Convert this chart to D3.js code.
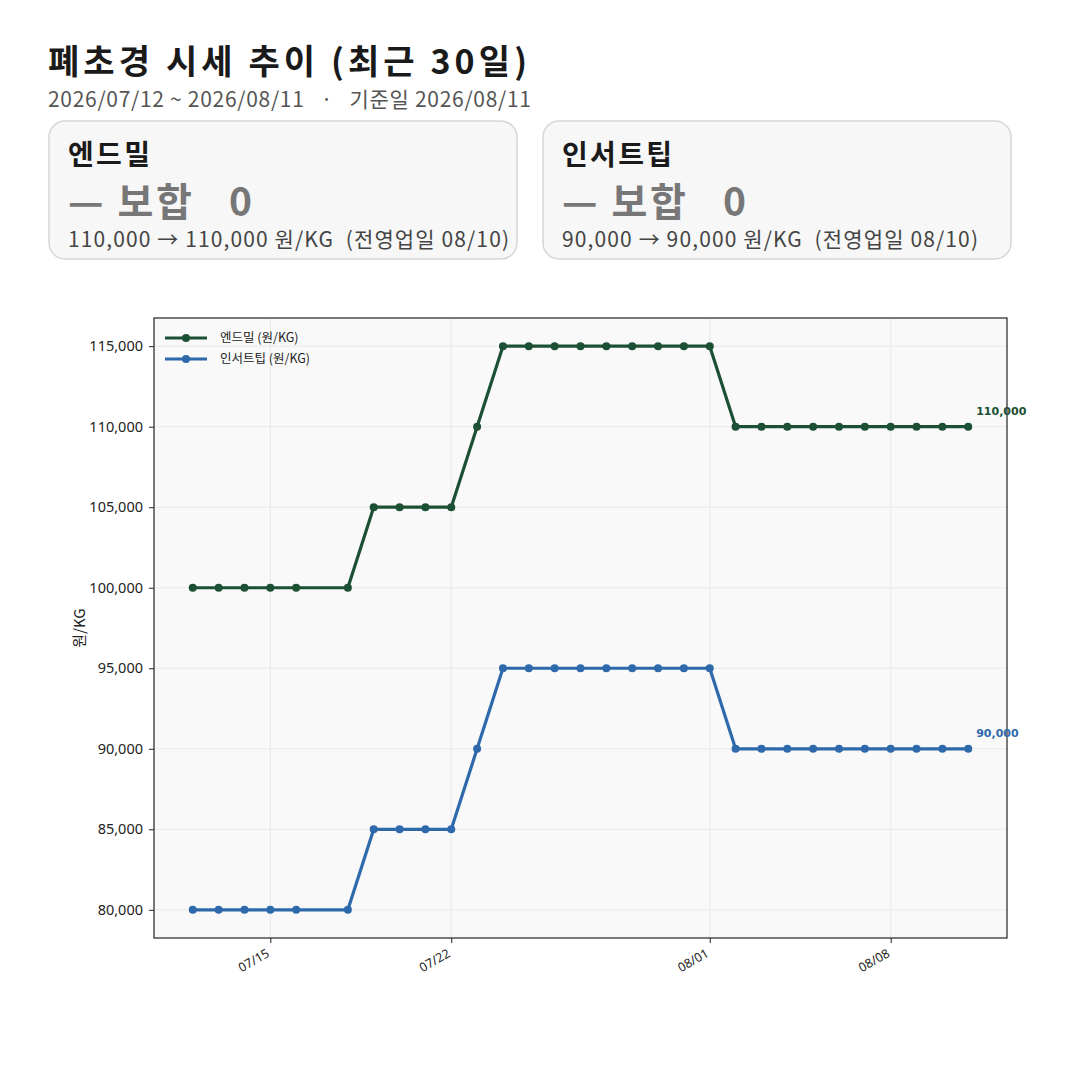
<!DOCTYPE html>
<html>
<head>
<meta charset="utf-8">
<script src="https://cdn.jsdelivr.net/npm/d3@7"></script>
<style>
  body { margin: 0; background: #fff; }
</style>
</head>
<body>
<div id="chart"></div>
<script>
// data (07/17 has no point)
const dates = ["2026-07-12","2026-07-13","2026-07-14","2026-07-15","2026-07-16",
  "2026-07-18","2026-07-19","2026-07-20","2026-07-21","2026-07-22","2026-07-23",
  "2026-07-24","2026-07-25","2026-07-26","2026-07-27","2026-07-28","2026-07-29",
  "2026-07-30","2026-07-31","2026-08-01","2026-08-02","2026-08-03","2026-08-04",
  "2026-08-05","2026-08-06","2026-08-07","2026-08-08","2026-08-09","2026-08-10","2026-08-11"];
const endmill = [100000,100000,100000,100000,100000,100000,105000,105000,105000,105000,110000,
  115000,115000,115000,115000,115000,115000,115000,115000,115000,
  110000,110000,110000,110000,110000,110000,110000,110000,110000,110000];
const insert = [80000,80000,80000,80000,80000,80000,85000,85000,85000,85000,90000,
  95000,95000,95000,95000,95000,95000,95000,95000,95000,
  90000,90000,90000,90000,90000,90000,90000,90000,90000,90000];
const seriesNames = ["엔드밀 (원/KG)", "인서트팁 (원/KG)"];
const seriesColors = ["#1c5034", "#2e69ab"];
const xTickDates = ["2026-07-15","2026-07-22","2026-08-01","2026-08-08"];
const yTicks = [80000, 85000, 90000, 95000, 100000, 105000, 110000, 115000];

const cards = [
  { name: "엔드밀", change: "— 보합   0", detail: "110,000 → 110,000 원/KG  (전영업일 08/10)" },
  { name: "인서트팁", change: "— 보합   0", detail: "90,000 → 90,000 원/KG  (전영업일 08/10)" }
];
// widths measured on the reference, used to stretch the narrower local font
const nameW = [82, 110], changeW = [184, 184], detailW = [441, 416];

const KR = "'Noto Sans CJK KR', 'Noto Sans', sans-serif";
const W = 1080, H = 1080;
const svg = d3.select("#chart").append("svg").attr("width", W).attr("height", H)
  .style("font-family", KR);

// header
svg.append("text").attr("x", 48).attr("y", 74)
  .attr("font-size", 34).attr("font-weight", "bold").attr("fill", "#1a1a1a")
  .attr("textLength", 479).attr("lengthAdjust", "spacing")
  .text("폐초경 시세 추이 (최근 30일)");
svg.append("text").attr("x", 48).attr("y", 107)
  .attr("font-size", 21).attr("fill", "#555")
  .attr("textLength", 483).attr("lengthAdjust", "spacing")
  .style("white-space", "pre")
  .text("2026/07/12 ~ 2026/08/11   ·   기준일 2026/08/11");

// summary cards
const card = svg.selectAll(".card").data(cards).join("g")
  .attr("class", "card")
  .attr("transform", (d, i) => `translate(${49 + i * 494},121)`);
card.append("rect").attr("width", 468).attr("height", 138).attr("rx", 16)
  .attr("fill", "#f7f7f7").attr("stroke", "#d6d6d6").attr("stroke-width", 1.5);
card.append("text").attr("x", 19).attr("y", 44)
  .attr("font-size", 28).attr("font-weight", "bold").attr("fill", "#1a1a1a")
  .attr("textLength", (d, i) => nameW[i]).attr("lengthAdjust", "spacing")
  .text(d => d.name);
card.append("text").attr("x", 19).attr("y", 95)
  .attr("font-size", 39).attr("font-weight", "bold").attr("fill", "#777")
  .attr("textLength", (d, i) => changeW[i]).attr("lengthAdjust", "spacing")
  .style("white-space", "pre")
  .text(d => d.change);
card.append("text").attr("x", 19).attr("y", 126)
  .attr("font-size", 21).attr("fill", "#444")
  .attr("textLength", (d, i) => detailW[i]).attr("lengthAdjust", "spacing")
  .style("white-space", "pre")
  .text(d => d.detail);

// plot area
const m = { left: 154, right: 1007, top: 318, bottom: 938 };
const parse = d3.utcParse("%Y-%m-%d");
const xs = dates.map(parse);
const span = xs[xs.length - 1] - xs[0];
const x = d3.scaleUtc()
  .domain([new Date(+xs[0] - span * 0.05), new Date(+xs[xs.length - 1] + span * 0.05)])
  .range([m.left, m.right]);
const yMin = d3.min(insert), yMax = d3.max(endmill), yPad = (yMax - yMin) * 0.05;
const y = d3.scaleLinear().domain([yMin - yPad, yMax + yPad]).range([m.bottom, m.top]);

svg.append("rect").attr("x", m.left).attr("y", m.top)
  .attr("width", m.right - m.left).attr("height", m.bottom - m.top).attr("fill", "#f9f9f9");

// grid
const grid = svg.append("g").attr("stroke", "#e4e4e4").attr("stroke-width", 0.8);
grid.selectAll(".gy").data(yTicks).join("line")
  .attr("x1", m.left).attr("x2", m.right).attr("y1", d => y(d)).attr("y2", d => y(d));
grid.selectAll(".gx").data(xTickDates.map(parse)).join("line")
  .attr("y1", m.top).attr("y2", m.bottom).attr("x1", d => x(d)).attr("x2", d => x(d));

// axes
const fmt = d3.format(",");
const yAxis = svg.append("g").attr("transform", `translate(${m.left},0)`)
  .call(d3.axisLeft(y).tickValues(yTicks).tickFormat(fmt).tickSize(5).tickPadding(6));
const xAxis = svg.append("g").attr("transform", `translate(0,${m.bottom})`)
  .call(d3.axisBottom(x).tickValues(xTickDates.map(parse)).tickFormat(d3.utcFormat("%m/%d")).tickSize(5));
[yAxis, xAxis].forEach(a => {
  a.select(".domain").remove();
  a.selectAll(".tick line").attr("stroke", "#222");
  a.selectAll(".tick text").attr("fill", "#222")
    .style("font-size", "14.5px").style("font-family", "'Noto Sans', sans-serif");
});
xAxis.selectAll(".tick text")
  .style("font-size", "12.5px")
  .attr("x", 0).attr("y", 0).attr("dy", "0.72em")
  .attr("text-anchor", "end")
  .attr("transform", "translate(-5,10) rotate(-30)");

svg.append("rect").attr("x", m.left).attr("y", m.top)
  .attr("width", m.right - m.left).attr("height", m.bottom - m.top)
  .attr("fill", "none").attr("stroke", "#222").attr("stroke-width", 1.2);

svg.append("text")
  .attr("transform", `translate(85,${(m.top + m.bottom) / 2}) rotate(-90)`)
  .attr("text-anchor", "middle").attr("font-size", 15).attr("fill", "#222")
  .text("원/KG");

// lines
const series = [endmill, insert].map((vals, i) => ({
  name: seriesNames[i], color: seriesColors[i],
  pts: vals.map((v, j) => ({ d: xs[j], v }))
}));
const line = d3.line().x(p => x(p.d)).y(p => y(p.v));
const sg = svg.selectAll(".series").data(series).join("g").attr("class", "series");
sg.append("path").attr("d", d => line(d.pts)).attr("fill", "none")
  .attr("stroke", d => d.color).attr("stroke-width", 3.2).attr("stroke-linejoin", "round");
sg.each(function (s) {
  d3.select(this).selectAll("circle").data(s.pts).join("circle")
    .attr("cx", p => x(p.d)).attr("cy", p => y(p.v)).attr("r", 4).attr("fill", s.color);
  const last = s.pts[s.pts.length - 1];
  d3.select(this).append("text")
    .attr("x", x(last.d) + 8).attr("y", y(last.v) - 12)
    .style("font-family", "'DejaVu Sans', sans-serif")
    .attr("font-size", 11).attr("font-weight", "bold").attr("fill", s.color)
    .text(fmt(last.v));
});

// legend
const lg = svg.selectAll(".leg").data(series).join("g")
  .attr("transform", (d, i) => `translate(165,${338 + i * 21})`);
lg.append("line").attr("x1", 0).attr("x2", 42).attr("stroke", d => d.color).attr("stroke-width", 3.2);
lg.append("circle").attr("cx", 21).attr("r", 4).attr("fill", d => d.color);
lg.append("text").attr("x", 55).attr("dy", "0.35em").attr("font-size", 12.5).attr("fill", "#222")
  .text(d => d.name);
</script>
</body>
</html>
